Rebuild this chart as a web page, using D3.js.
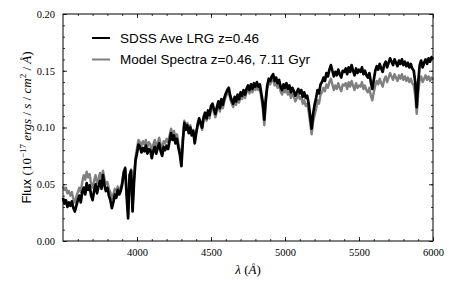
<!DOCTYPE html>
<html>
<head>
<meta charset="utf-8">
<script src="https://cdn.jsdelivr.net/npm/d3@7"></script>
<style>
  body { margin: 0; background: #fff; }
  .tick text { font-family: "Liberation Serif", serif; font-size: 10.5px; }
</style>
</head>
<body>
<div id="chart-area"></div>
<script>

var lambdaStart = 3500, lambdaStep = 10;

var sdssFlux = [
  0.038, 0.033, 0.036, 0.030, 0.034, 0.031, 0.035, 0.029, 0.026, 0.031, 0.036,
  0.040, 0.034, 0.043, 0.047, 0.041, 0.051, 0.045, 0.049, 0.040, 0.036,
  0.044, 0.050, 0.042, 0.048, 0.053, 0.046, 0.058, 0.049, 0.044, 0.047,
  0.040, 0.036, 0.029, 0.034, 0.041, 0.038, 0.045, 0.041, 0.044, 0.050,
  0.060, 0.064, 0.040, 0.020, 0.058, 0.062, 0.026, 0.052, 0.071, 0.077,
  0.085, 0.083, 0.078, 0.082, 0.079, 0.084, 0.077, 0.081, 0.080, 0.073,
  0.079, 0.083, 0.077, 0.082, 0.086, 0.079, 0.075, 0.083, 0.080, 0.084,
  0.081, 0.088, 0.095, 0.089, 0.093, 0.086, 0.090, 0.082, 0.076, 0.066,
  0.088, 0.104, 0.098, 0.102, 0.095, 0.100, 0.093, 0.097, 0.086, 0.095,
  0.103, 0.108, 0.104, 0.100, 0.109, 0.113, 0.108, 0.115, 0.111, 0.119,
  0.121, 0.116, 0.112, 0.118, 0.123, 0.117, 0.125, 0.120, 0.126, 0.130,
  0.133, 0.135, 0.128, 0.124, 0.121, 0.127, 0.123, 0.129, 0.125, 0.131,
  0.128, 0.133, 0.129, 0.134, 0.137, 0.133, 0.138, 0.134, 0.139, 0.136,
  0.140, 0.136, 0.138, 0.130, 0.122, 0.107, 0.125, 0.137, 0.143, 0.141,
  0.145, 0.147, 0.141, 0.144, 0.139, 0.142, 0.136, 0.133, 0.138, 0.135,
  0.139, 0.134, 0.137, 0.131, 0.135, 0.132, 0.128, 0.131, 0.134, 0.130,
  0.133, 0.127, 0.131, 0.126, 0.128, 0.121, 0.110, 0.099, 0.112, 0.120,
  0.126, 0.133, 0.130, 0.138, 0.140, 0.144, 0.141, 0.148, 0.145, 0.151,
  0.155, 0.150, 0.145, 0.149, 0.146, 0.151, 0.147, 0.144, 0.150, 0.149,
  0.152, 0.147, 0.153, 0.149, 0.155, 0.150, 0.146, 0.152, 0.148, 0.151,
  0.149, 0.153, 0.147, 0.150, 0.146, 0.144, 0.148, 0.140, 0.134, 0.142,
  0.150, 0.154, 0.151, 0.156, 0.152, 0.149, 0.155, 0.158, 0.153, 0.157,
  0.161, 0.158, 0.155, 0.160, 0.157, 0.154, 0.159, 0.156, 0.160, 0.155,
  0.158, 0.154, 0.157, 0.153, 0.156, 0.152, 0.150, 0.140, 0.118, 0.140,
  0.155, 0.159, 0.153, 0.157, 0.160, 0.156, 0.161, 0.158, 0.162, 0.160
];

var modelFlux = [
  0.048, 0.045, 0.047, 0.042, 0.044, 0.040, 0.043, 0.037, 0.034, 0.039, 0.043,
  0.047, 0.043, 0.052, 0.058, 0.054, 0.061, 0.056, 0.059, 0.050, 0.047,
  0.053, 0.058, 0.051, 0.055, 0.060, 0.053, 0.062, 0.055, 0.050, 0.052,
  0.046, 0.043, 0.037, 0.041, 0.046, 0.043, 0.048, 0.045, 0.047, 0.052,
  0.061, 0.065, 0.043, 0.024, 0.058, 0.063, 0.030, 0.055, 0.074, 0.082,
  0.089, 0.087, 0.084, 0.088, 0.085, 0.089, 0.083, 0.087, 0.085, 0.078,
  0.085, 0.089, 0.083, 0.087, 0.091, 0.085, 0.081, 0.088, 0.086, 0.090,
  0.087, 0.093, 0.099, 0.094, 0.097, 0.091, 0.094, 0.086, 0.080, 0.070,
  0.091, 0.106, 0.100, 0.104, 0.097, 0.102, 0.095, 0.098, 0.088, 0.096,
  0.101, 0.106, 0.102, 0.098, 0.107, 0.111, 0.106, 0.112, 0.108, 0.116,
  0.119, 0.113, 0.109, 0.115, 0.120, 0.114, 0.122, 0.117, 0.123, 0.127,
  0.130, 0.132, 0.125, 0.121, 0.118, 0.124, 0.120, 0.126, 0.122, 0.128,
  0.125, 0.130, 0.126, 0.131, 0.134, 0.130, 0.135, 0.131, 0.136, 0.133,
  0.137, 0.133, 0.135, 0.126, 0.117, 0.102, 0.121, 0.134, 0.140, 0.138,
  0.141, 0.143, 0.137, 0.140, 0.135, 0.138, 0.132, 0.129, 0.134, 0.131,
  0.134, 0.129, 0.132, 0.126, 0.130, 0.127, 0.123, 0.126, 0.129, 0.125,
  0.127, 0.121, 0.124, 0.119, 0.121, 0.114, 0.104, 0.094, 0.105, 0.111,
  0.116, 0.124, 0.121, 0.129, 0.131, 0.135, 0.132, 0.138, 0.135, 0.140,
  0.143, 0.138, 0.133, 0.137, 0.134, 0.139, 0.135, 0.132, 0.138, 0.137,
  0.139, 0.134, 0.140, 0.136, 0.141, 0.137, 0.133, 0.139, 0.135, 0.137,
  0.136, 0.140, 0.134, 0.137, 0.133, 0.131, 0.135, 0.128, 0.124, 0.131,
  0.137, 0.141, 0.138, 0.143, 0.139, 0.136, 0.142, 0.145, 0.140, 0.144,
  0.148, 0.145, 0.142, 0.147, 0.144, 0.141, 0.146, 0.143, 0.147, 0.142,
  0.145, 0.141, 0.144, 0.140, 0.143, 0.139, 0.137, 0.128, 0.112, 0.130,
  0.142, 0.145, 0.140, 0.143, 0.146, 0.142, 0.145, 0.141, 0.144, 0.142
];

var xTicks = [4000, 4500, 5000, 5500, 6000];
var yTicks = [0.00, 0.05, 0.10, 0.15, 0.20];
var seriesNames = ["SDSS Ave LRG z=0.46", "Model Spectra z=0.46, 7.11 Gyr"];
var seriesColors = ["#000000", "#7f7f7f"];


// SVG drawing area
var margin = {top: 14, right: 30, bottom: 45, left: 63};

var width = 463 - margin.left - margin.right,
    height = 286 - margin.top - margin.bottom;

var svg = d3.select("#chart-area").append("svg")
    .attr("width", width + margin.left + margin.right)
    .attr("height", height + margin.top + margin.bottom)
  .append("g")
    .attr("transform", "translate(" + margin.left + "," + margin.top + ")");


// Scales
var x = d3.scaleLinear()
    .domain([3500, 6000])
    .range([0, width]);

var y = d3.scaleLinear()
    .domain([0, 0.20])
    .range([height, 0]);

var lambda = sdssFlux.map(function(d, i) { return lambdaStart + i * lambdaStep; });


// Lines (model first, SDSS on top)
var line = d3.line()
    .x(function(d) { return x(d[0]); })
    .y(function(d) { return y(d[1]); });

svg.append("path")
    .datum(lambda.map(function(l, i) { return [l, modelFlux[i]]; }))
    .attr("fill", "none")
    .attr("stroke", seriesColors[1])
    .attr("stroke-width", 2.4)
    .attr("stroke-linejoin", "round")
    .attr("d", line);

svg.append("path")
    .datum(lambda.map(function(l, i) { return [l, sdssFlux[i]]; }))
    .attr("fill", "none")
    .attr("stroke", seriesColors[0])
    .attr("stroke-width", 2.7)
    .attr("stroke-linejoin", "round")
    .attr("d", line);


// Axes - ticks point inward, on all four sides
var minorX = d3.range(3600, 6000, 100),
    minorY = d3.range(0.01, 0.2, 0.01);

function addAxis(axisFn, scale, vals, size, transform, labels) {
    var g = svg.append("g")
        .attr("transform", transform)
        .call(axisFn(scale).tickValues(vals).tickSize(size).tickPadding(6)
            .tickFormat(labels ? labels : ""));
    g.select(".domain").remove();
    g.selectAll(".tick line").attr("stroke", "#000").attr("stroke-width", 0.8);
    g.selectAll(".tick text").attr("fill", "#000");
    return g;
}

// bottom
addAxis(d3.axisBottom, x, minorX, -2, "translate(0," + height + ")");
var xg = addAxis(d3.axisBottom, x, xTicks, -4, "translate(0," + height + ")", d3.format("d"));
xg.selectAll(".tick text").attr("dy", "1.05em").attr("y", 4);
// top
addAxis(d3.axisTop, x, minorX, -2, "translate(0,0)");
addAxis(d3.axisTop, x, xTicks, -4, "translate(0,0)");
// left
addAxis(d3.axisLeft, y, minorY, -2, "translate(0,0)");
var yg = addAxis(d3.axisLeft, y, yTicks, -4, "translate(0,0)", d3.format(".2f"));
yg.selectAll(".tick text").attr("x", -8);
// right
addAxis(d3.axisRight, y, minorY, -2, "translate(" + width + ",0)");
addAxis(d3.axisRight, y, yTicks, -4, "translate(" + width + ",0)");

svg.append("rect")
    .attr("width", width)
    .attr("height", height)
    .attr("fill", "none")
    .attr("stroke", "#000")
    .attr("stroke-width", 1);


// Axis labels
svg.append("text")
    .attr("x", width / 2)
    .attr("y", height + 33)
    .attr("text-anchor", "middle")
    .style("font-family", "Liberation Serif, serif")
    .style("font-size", "13px")
    .html('<tspan font-style="italic">λ</tspan> (<tspan font-style="italic">Å</tspan>)');

var ylab = svg.append("text")
    .attr("transform", "translate(-32," + (height / 2) + ") rotate(-90)")
    .attr("text-anchor", "middle")
    .style("font-family", "Liberation Serif, serif")
    .style("font-size", "13px");

ylab.append("tspan").style("font-family", "Liberation Sans, sans-serif").text("Flux ");
ylab.append("tspan").text("(10");
ylab.append("tspan").attr("dy", -5).style("font-size", "9px").text("\u221217");
ylab.append("tspan").attr("dy", 5).text(" ");
ylab.append("tspan").style("font-style", "italic").text("ergs");
ylab.append("tspan").text(" / ");
ylab.append("tspan").style("font-style", "italic").text("s");
ylab.append("tspan").text(" / ");
ylab.append("tspan").style("font-style", "italic").text("cm");
ylab.append("tspan").attr("dy", -5).style("font-size", "9px").text("2");
ylab.append("tspan").attr("dy", 5).text(" / ");
ylab.append("tspan").style("font-style", "italic").text("Å");
ylab.append("tspan").text(")");


// Legend
var legend = svg.selectAll(".legend")
    .data(seriesNames)
  .enter().append("g")
    .attr("class", "legend")
    .attr("transform", function(d, i) { return "translate(29," + (24 + i * 21.5) + ")"; });

legend.append("line")
    .attr("x1", 0)
    .attr("x2", 18)
    .attr("stroke", function(d, i) { return seriesColors[i]; })
    .attr("stroke-width", 2);

legend.append("text")
    .attr("x", 28)
    .attr("dy", "0.36em")
    .style("font-family", "Liberation Sans, sans-serif")
    .style("font-size", "13.5px")
    .text(function(d) { return d; });

</script>
</body>
</html>
